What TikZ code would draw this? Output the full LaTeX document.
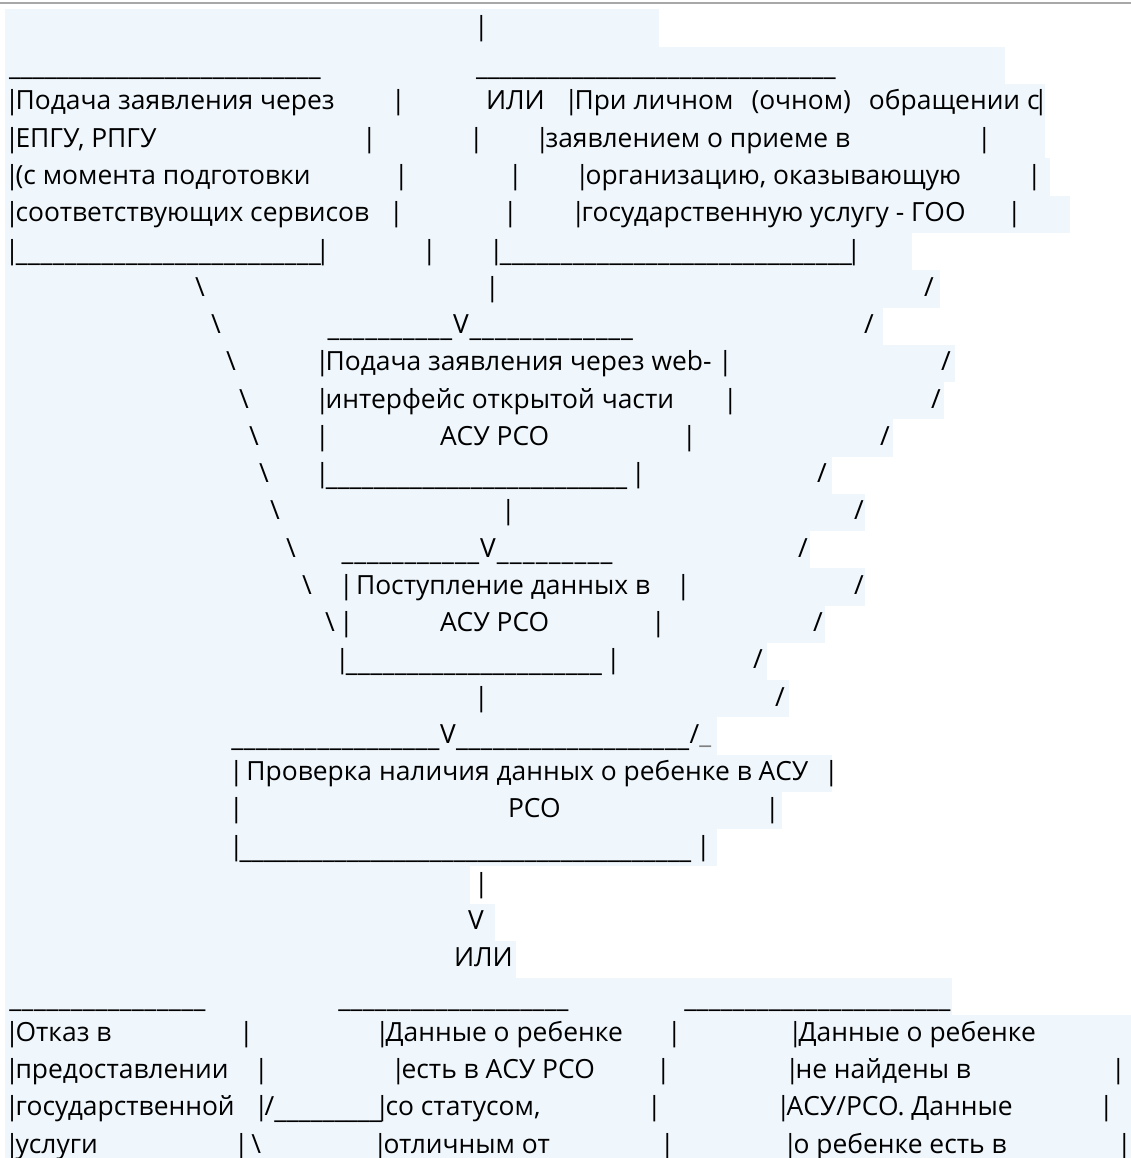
\documentclass[tikz,border=0pt]{standalone}
\usepackage{fontspec}
\setmainfont{Open Sans}
\definecolor{hilite}{HTML}{EFF7FD}
\definecolor{frame}{HTML}{A8A8A8}
\newcommand\usc[1]{\raisebox{-3pt}{\hbox to #1pt{\xleaders\hbox{\_}\hfill}}}
\newcommand\bsl{\textbackslash}
\newcommand\pp{\kern-6pt|\kern-4pt}
\tikzset{
  txt/.style={anchor=base west, inner sep=0pt, outer sep=0pt, font=\fontsize{26.4}{30}\selectfont},
}

\begin{document}
\begin{tikzpicture}[x=1pt,y=-37.25pt]
  \useasboundingbox (0pt,-1.75pt) rectangle (1131pt,-1159.75pt);
  % row highlight
  \foreach \k/\r in {1/659,2/1005,3/1045,4/1045,5/1050,6/1070,7/912,8/940,9/883,10/955,
      11/944,12/893,13/832,14/865,15/810,16/865,17/825,18/767,19/789,20/717,21/832,
      22/782,23/717,24/470,25/495,26/516,27/952,28/1131,29/1131,30/1131,31/1131}
    \fill[hilite] (5,\k-0.698) rectangle (\r,\k+0.302);
  \draw[frame, line width=2pt] (0pt,-4.75pt) -- (1131pt,-4.75pt);

  \node[txt] (r1a) at (480,1) {\pp};
  \node[txt] (r2a) at (9,2) {\usc{312}};
  \node[txt] (r2b) at (476,2) {\usc{360}};

  \node[txt] (r3a) at (11,3) {\pp Подача заявления через};
  \node[txt] (r3b) at (397,3) {\pp};
  \node[txt] (r3c) at (486,3) {ИЛИ};
  \node[txt] (r3d) at (570,3) {\pp При личном\hspace{18pt}(очном)\hspace{18pt}обращении с\pp};

  \node[txt] (r4a) at (11,4) {\pp ЕПГУ, РПГУ};
  \node[txt] (r4b) at (368,4) {\pp};
  \node[txt] (r4c) at (475,4) {\pp};
  \node[txt] (r4d) at (541,4) {\pp заявлением о приеме в};
  \node[txt] (r4e) at (983,4) {\pp};

  \node[txt] (r5a) at (11,5) {\pp(с момента подготовки};
  \node[txt] (r5b) at (400,5) {\pp};
  \node[txt] (r5c) at (514,5) {\pp};
  \node[txt] (r5d) at (581,5) {\pp организацию, оказывающую};
  \node[txt] (r5e) at (1033,5) {\pp};

  \node[txt] (r6a) at (11,6) {\pp соответствующих сервисов};
  \node[txt] (r6b) at (395,6) {\pp};
  \node[txt] (r6c) at (509,6) {\pp};
  \node[txt] (r6d) at (577,6) {\pp государственную услугу - ГОО};
  \node[txt] (r6e) at (1013,6) {\pp};

  \node[txt] (r7a) at (11,7) {\pp\usc{306}\pp};
  \node[txt] (r7b) at (428,7) {\pp};
  \node[txt] (r7c) at (495,7) {\pp\usc{353}\pp};

  \node[txt] (r8a) at (195,8) {\bsl};
  \node[txt] (r8b) at (491,8) {\pp};
  \node[txt] (r8c) at (924,8) {/};

  \node[txt] (r9a) at (211,9) {\bsl};
  \node[txt] (r9b) at (327,9) {\usc{126}V\usc{165}};
  \node[txt] (r9c) at (864,9) {/};

  \node[txt] (r10a) at (226,10) {\bsl};
  \node[txt] (r10b) at (321,10) {\pp Подача заявления через web-};
  \node[txt] (r10c) at (724,10) {\pp};
  \node[txt] (r10d) at (941,10) {/};

  \node[txt] (r11a) at (239,11) {\bsl};
  \node[txt] (r11b) at (321,11) {\pp интерфейс открытой части};
  \node[txt] (r11c) at (729,11) {\pp};
  \node[txt] (r11d) at (931,11) {/};

  \node[txt] (r12a) at (249,12) {\bsl};
  \node[txt] (r12b) at (321,12) {\pp};
  \node[txt] (r12c) at (440,12) {АСУ РСО};
  \node[txt] (r12d) at (688,12) {\pp};
  \node[txt] (r12e) at (880,12) {/};

  \node[txt] (r13a) at (259,13) {\bsl};
  \node[txt] (r13b) at (321,13) {\pp\usc{302}};
  \node[txt] (r13c) at (637,13) {\pp};
  \node[txt] (r13d) at (817,13) {/};

  \node[txt] (r14a) at (270,14) {\bsl};
  \node[txt] (r14b) at (507,14) {\pp};
  \node[txt] (r14c) at (854,14) {/};

  \node[txt] (r15a) at (286,15) {\bsl};
  \node[txt] (r15b) at (341,15) {\usc{139}V\usc{118}};
  \node[txt] (r15c) at (798,15) {/};

  \node[txt] (r16a) at (302,16) {\bsl};
  \node[txt] (r16b) at (345,16) {\pp};
  \node[txt] (r16c) at (356,16) {Поступление данных в};
  \node[txt] (r16d) at (682,16) {\pp};
  \node[txt] (r16e) at (854,16) {/};

  \node[txt] (r17a) at (325,17) {\bsl};
  \node[txt] (r17b) at (345,17) {\pp};
  \node[txt] (r17c) at (440,17) {АСУ РСО};
  \node[txt] (r17d) at (657,17) {\pp};
  \node[txt] (r17e) at (813,17) {/};

  \node[txt] (r18a) at (341,18) {\pp\usc{257}};
  \node[txt] (r18b) at (612,18) {\pp};
  \node[txt] (r18c) at (753,18) {/};

  \node[txt] (r19a) at (480,19) {\pp};
  \node[txt] (r19b) at (775,19) {/};

  \node[txt] (r20a) at (231,20) {\usc{209}V\usc{234}/\textcolor{gray}{\_}};

  \node[txt] (r21a) at (235,21) {\pp\ Проверка наличия данных о ребенке в АСУ};
  \node[txt] (r21b) at (830,21) {\pp};

  \node[txt] (r22a) at (235,22) {\pp};
  \node[txt] (r22b) at (508,22) {РСО};
  \node[txt] (r22c) at (771,22) {\pp};

  \node[txt] (r23a) at (235,23) {\pp\usc{452}};
  \node[txt] (r23b) at (702,23) {\pp};

  \node[txt] (r24a) at (480,24) {\pp};
  \node[txt] (r25a) at (468,25) {V};
  \node[txt] (r26a) at (454,26) {ИЛИ};

  \node[txt] (r27a) at (9,27) {\usc{197}};
  \node[txt] (r27b) at (338,27) {\usc{231}};
  \node[txt] (r27c) at (684,27) {\usc{267}};

  \node[txt] (r28a) at (11,28) {\pp Отказ в};
  \node[txt] (r28b) at (245,28) {\pp};
  \node[txt] (r28c) at (381,28) {\pp Данные о ребенке};
  \node[txt] (r28d) at (673,28) {\pp};
  \node[txt] (r28e) at (794,28) {\pp Данные о ребенке};

  \node[txt] (r29a) at (11,29) {\pp предоставлении};
  \node[txt] (r29b) at (260,29) {\pp};
  \node[txt] (r29c) at (397,29) {\pp есть в АСУ РСО};
  \node[txt] (r29d) at (662,29) {\pp};
  \node[txt] (r29e) at (791,29) {\pp не найдены в};
  \node[txt] (r29f) at (1117,29) {\pp};

  \node[txt] (r30a) at (11,30) {\pp государственной};
  \node[txt] (r30b) at (260,30) {\pp/\usc{108}};
  \node[txt] (r30c) at (381,30) {\pp со статусом,};
  \node[txt] (r30d) at (653,30) {\pp};
  \node[txt] (r30e) at (782,30) {\pp АСУ/РСО. Данные};
  \node[txt] (r30f) at (1105,30) {\pp};

  \node[txt] (r31a) at (11,31) {\pp услуги};
  \node[txt] (r31b) at (240,31) {\pp\ \bsl};
  \node[txt] (r31c) at (379,31) {\pp отличным от};
  \node[txt] (r31d) at (666,31) {\pp};
  \node[txt] (r31e) at (789,31) {\pp о ребенке есть в};
  \node[txt] (r31f) at (1123,31) {\pp};
\end{tikzpicture}
\end{document}
